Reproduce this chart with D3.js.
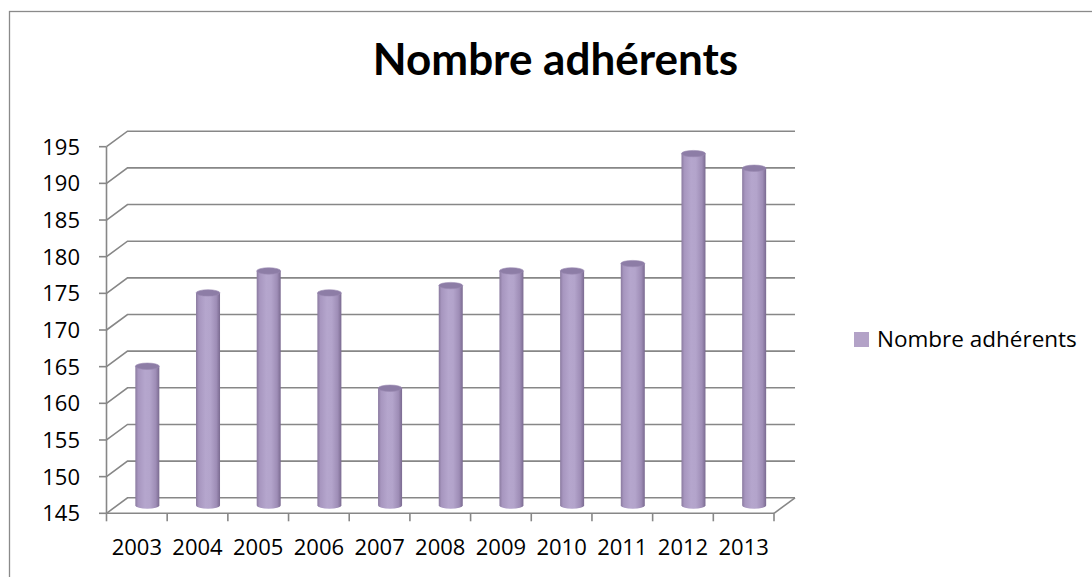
<!DOCTYPE html>
<html><head><meta charset="utf-8">
<script src="https://cdn.jsdelivr.net/npm/d3@7"></script>
<style>body{margin:0;background:#fff}svg{display:block}</style>
</head><body>
<svg id="c" width="1092" height="577"></svg>
<script>
const categories = ["2003","2004","2005","2006","2007","2008","2009","2010","2011","2012","2013"];
const values = [164,174,177,174,161,175,177,177,178,193,191];
const yTicks = [145,150,155,160,165,170,175,180,185,190,195];
const seriesName = "Nombre adhérents";
const title = "Nombre adhérents";

const svg = d3.select("#c");
const font = "'Open Sans', sans-serif";
const titleFont = "Lato, 'Open Sans', sans-serif";
const gridColor = "#878787";
const dx = 21, dy = 15.5;
const x = d3.scaleBand().domain(categories).range([106.5, 774]);
const y = d3.scaleLinear().domain([145,195]).range([513.3, 146.7]);

// border
svg.append("rect").attr("x",9.5).attr("y",11.5).attr("width",1200).attr("height",700)
  .attr("fill","none").attr("stroke","#8a8a8a").attr("stroke-width",1.3);

// title
svg.append("text").attr("x",555.5).attr("y",75).attr("text-anchor","middle")
  .attr("font-family",titleFont).attr("font-weight","bold").attr("font-size",44).attr("fill","#000").text(title);

const x0 = x.range()[0], x1 = x.range()[1];
// gridlines (back wall + side wall)
svg.append("g").selectAll("path").data(yTicks).join("path")
  .attr("d", t => `M${x0},${y(t)}L${x0+dx},${y(t)-dy}L${x1+dx},${y(t)-dy}`)
  .attr("fill","none").attr("stroke",gridColor).attr("stroke-width",1.6);
// floor right edge
svg.append("path").attr("d",`M${x1},${y(145)}L${x1+dx},${y(145)-dy}`)
  .attr("fill","none").attr("stroke",gridColor).attr("stroke-width",1.6);

// gradient
const defs = svg.append("defs");
const g = defs.append("linearGradient").attr("id","cyl").attr("x1","0").attr("x2","1").attr("y1","0").attr("y2","0");
[[0,"#8a7a9f"],[0.12,"#a796bf"],[0.4,"#b5a6cd"],[0.6,"#b3a4cb"],[0.85,"#9e8db6"],[1,"#7a6a90"]]
  .forEach(([o,c]) => g.append("stop").attr("offset",o).attr("stop-color",c));

// bars (cylinders)
const bw = 24, ry = 3.2;
const bars = svg.append("g").selectAll("g").data(categories.map((c,i)=>({c,v:values[i]}))).join("g");
bars.append("path").attr("d", d => {
  const cx = x(d.c) + x.bandwidth()/2 + dx/2;
  const yt = y(d.v) - dy/2, yb = y(145) - dy/2;
  const l = cx - bw/2, r = cx + bw/2;
  return `M${l},${yt}L${l},${yb}A${bw/2},${ry} 0 0 0 ${r},${yb}L${r},${yt}Z`;
}).attr("fill","url(#cyl)");
bars.append("ellipse")
  .attr("cx", d => x(d.c) + x.bandwidth()/2 + dx/2)
  .attr("cy", d => y(d.v) - dy/2)
  .attr("rx", bw/2).attr("ry", ry)
  .attr("fill","#8d7da6").attr("stroke","#9a8ab2").attr("stroke-width",0.6);

// y axis
svg.append("line").attr("x1",x0).attr("x2",x0).attr("y1",y(195)).attr("y2",y(145))
  .attr("stroke",gridColor).attr("stroke-width",1.6);
svg.append("g").selectAll("line").data(yTicks).join("line")
  .attr("x1",x0-7.5).attr("x2",x0).attr("y1",d=>y(d)).attr("y2",d=>y(d))
  .attr("stroke",gridColor).attr("stroke-width",1.6);
svg.append("g").selectAll("text").data(yTicks).join("text")
  .attr("x",80).attr("y",d=>y(d)+8).attr("text-anchor","end")
  .attr("font-family",font).attr("font-size",22).attr("fill","#000").text(d=>d);

// x axis
svg.append("line").attr("x1",x0).attr("x2",x1).attr("y1",y(145)).attr("y2",y(145))
  .attr("stroke",gridColor).attr("stroke-width",1.6);
const bounds = categories.map(c=>x(c)).concat([x1]);
svg.append("g").selectAll("line").data(bounds).join("line")
  .attr("x1",d=>d).attr("x2",d=>d).attr("y1",y(145)).attr("y2",y(145)+8)
  .attr("stroke",gridColor).attr("stroke-width",1.6);
svg.append("g").selectAll("text").data(categories).join("text")
  .attr("x",d=>x(d)+x.bandwidth()/2).attr("y",555).attr("text-anchor","middle")
  .attr("font-family",font).attr("font-size",22).attr("fill","#000").text(d=>d);

// legend
svg.append("rect").attr("x",854).attr("y",332).attr("width",15).attr("height",15).attr("fill","#b3a2c7");
svg.append("text").attr("x",877).attr("y",347).attr("font-family",font).attr("font-size",22.5).attr("fill","#000").text(seriesName);
</script>
</body></html>
